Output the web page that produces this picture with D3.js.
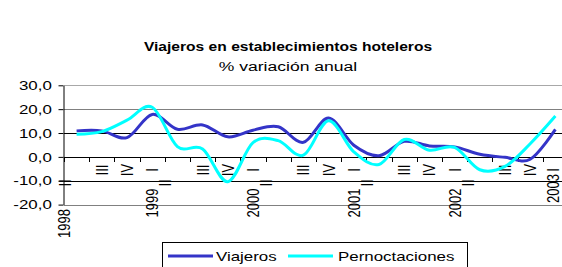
<!DOCTYPE html>
<html><head><meta charset="utf-8">
<script src="https://cdn.jsdelivr.net/npm/d3@7"></script>
<style>
body{margin:0;background:#fff}
svg{display:block}
text{font-family:"Liberation Sans",Arial,sans-serif;fill:#000}
</style>
</head><body>
<svg id="c" width="562" height="267"></svg>
<script>
// ---- data ----
const categories = ["1998 II","1998 III","1998 IV","1999 I","1999 II","1999 III","1999 IV",
  "2000 I","2000 II","2000 III","2000 IV","2001 I","2001 II","2001 III","2001 IV",
  "2002 I","2002 II","2002 III","2002 IV","2003 I"];
const viajeros =       [10.9, 10.9, 8.1, 17.8, 11.6, 13.4, 8.4, 11.2, 12.6, 6.1, 16.3, 4.9, 0.5, 6.5, 4.6, 4.2, 1.1, -0.2, -1.0, 11.5];
const pernoctaciones = [9.5, 10.6, 15.4, 20.8, 4.3, 3.3, -10.4, 6.0, 6.8, 0.7, 15.1, 2.1, -3.2, 7.3, 2.8, 4.0, -5.4, -4.0, 5.5, 17.1];
const yTicks = [-20, -10, 0, 10, 20, 30];
const seriesNames = ["Viajeros", "Pernoctaciones"];
const titleText = "Viajeros en establecimientos hoteleros";
const subtitleText = "% variación anual";

// ---- layout ----
const SX = 1.3; // horizontal stretch of the original's text
const colors = ["#3434c8", "#00ffff"];
const svg = d3.select("#c");
const x = d3.scaleBand().domain(categories).range([64, 568]).padding(0);
const y = d3.scaleLinear().domain([-20, 30]).range([204.6, 85.3]);
const bw = x.bandwidth();
const cx = d => x(d) + bw / 2;
const lx = d => Math.min(cx(d), 553.5); // keep edge labels inside the picture

// titles
svg.append("text").attr("transform", `translate(288,51) scale(${SX},1)`)
  .attr("text-anchor", "middle").style("font-weight", "bold").style("font-size", "12px").text(titleText);
svg.append("text").attr("transform", `translate(288,70.5) scale(${SX},1)`)
  .attr("text-anchor", "middle").style("font-size", "13.5px").text(subtitleText);

// gridlines
const gridColor = v => (v === 10 || v === 0 || v === -10) ? "#000" : (v === 30 ? "#a8a8a8" : "#808080");
svg.append("g").selectAll("line").data(yTicks).join("line")
  .attr("x1", 64).attr("x2", 568)
  .attr("y1", d => Math.round(y(d)) + 0.5).attr("y2", d => Math.round(y(d)) + 0.5)
  .attr("stroke", gridColor).attr("stroke-width", 1);

// y axis
const yAxis = d3.axisLeft(y).tickValues(yTicks).tickSize(5).tickPadding(4).tickSizeOuter(0)
  .tickFormat(d => d3.format(".1f")(d).replace(".", ",").replace("\u2212", "-"));
const gy = svg.append("g").attr("transform", "translate(63.5,0)").call(yAxis);
gy.select(".domain").attr("stroke", "#000");
gy.selectAll(".tick line").attr("stroke", "#000");
gy.selectAll(".tick text").attr("transform", `scale(${SX},1)`).style("font-size", "13px")
  .style("font-family", "'Liberation Sans',Arial,sans-serif");

// category ticks on the zero line
svg.append("g").selectAll("line").data(categories).join("line")
  .attr("x1", d => Math.round(x(d)) + 0.5).attr("x2", d => Math.round(x(d)) + 0.5)
  .attr("y1", Math.round(y(0))).attr("y2", Math.round(y(0)) + 5)
  .attr("stroke", "#000");

// quarter labels
const quarter = d => d.split(" ")[1];
const year = d => d.split(" ")[0];
const qg = svg.append("g").style("font-size", "13px");
qg.selectAll("text").data(categories).join("text")
  .attr("transform", d => quarter(d) === "II"
      ? `translate(${cx(d) - 12},183) scale(${SX},1) rotate(-90)`
      : `translate(${lx(d)},170) scale(${SX},1) rotate(-90)`)
  .attr("text-anchor", "middle").attr("dy", "0.35em").text(quarter);

// year labels
const yearCats = categories.filter((d, i) => i === 0 || quarter(d) === "I");
svg.append("g").style("font-size", "13px").selectAll("text").data(yearCats).join("text")
  .attr("transform", (d, i) => {
    const first = i === 0, last = i === yearCats.length - 1;
    const px = first ? cx(d) - 13 : lx(d);
    const py = first ? 238 : (last ? 203 : 217.5);
    return `translate(${px},${py}) scale(${SX},1) rotate(-90)`;
  })
  .attr("text-anchor", "start").attr("dy", "0.35em").text(year);

// lines
const line = d3.line().x((d, i) => cx(categories[i])).y(d => y(d)).curve(d3.curveCatmullRom.alpha(0));
[viajeros, pernoctaciones].forEach((s, k) => {
  svg.append("path").datum(s).attr("d", line).attr("fill", "none")
    .attr("stroke", colors[k]).attr("stroke-width", 3).attr("stroke-linejoin", "round");
});

// legend
const lg = svg.append("g");
lg.append("rect").attr("x", 162.5).attr("y", 242.5).attr("width", 305).attr("height", 40)
  .attr("fill", "#fff").attr("stroke", "#000");
const legX = [[168, 213, 216], [288, 333, 338]];
seriesNames.forEach((n, k) => {
  lg.append("line").attr("x1", legX[k][0]).attr("x2", legX[k][1]).attr("y1", 256).attr("y2", 256)
    .attr("stroke", colors[k]).attr("stroke-width", 3);
  lg.append("text").attr("transform", `translate(${legX[k][2]},256) scale(${SX},1)`)
    .attr("dy", "0.35em").style("font-size", "13px").text(n);
});
</script>
</body></html>
